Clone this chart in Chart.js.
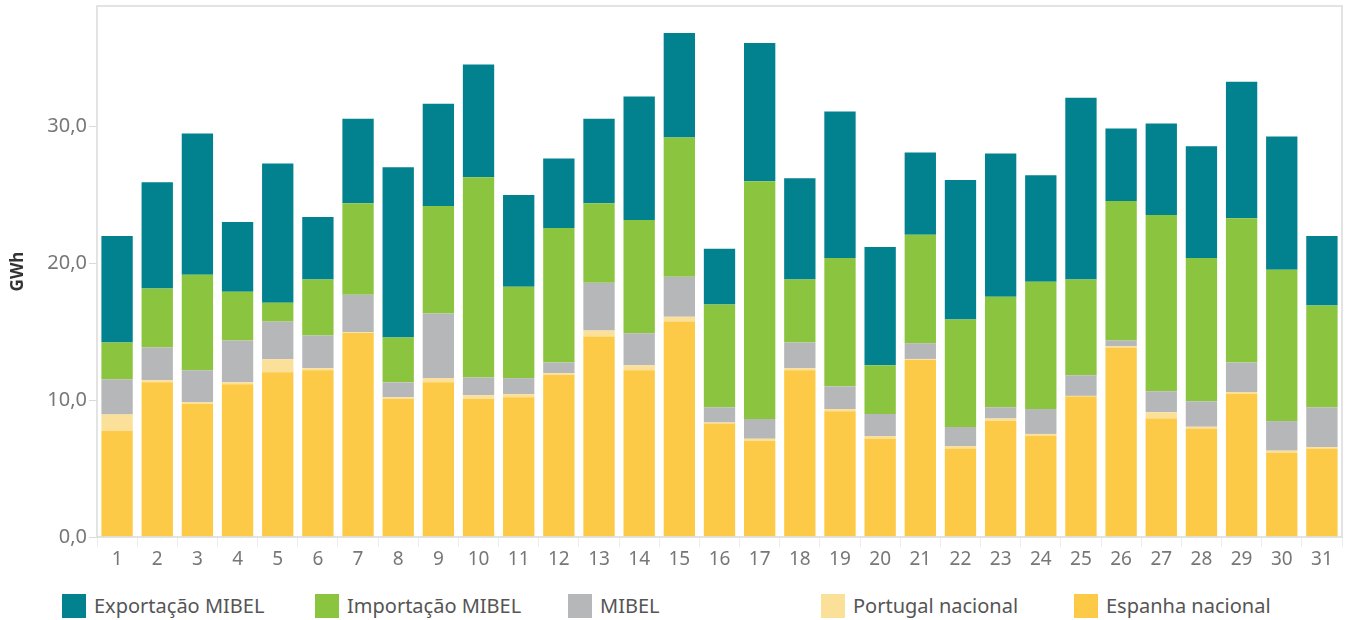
<!DOCTYPE html>
<html>
<head>
<meta charset="utf-8">
<script src="https://cdn.jsdelivr.net/npm/chart.js@4/dist/chart.umd.min.js"></script>
<style>
  html, body { margin: 0; padding: 0; background: #fff; }
  #wrap { position: relative; width: 1349px; height: 620px; }
  #box { position: absolute; left: 0; top: 0; width: 1349px; height: 580px; }
  #legend { position: absolute; left: 0; top: 594px; width: 1349px; height: 24px;
            font-family: "Noto Sans", sans-serif; font-size: 20px; color: #555; }
  .item { position: absolute; top: 0; height: 24px; line-height: 24px; white-space: nowrap; }
  .sw { display: inline-block; width: 24px; height: 24px; vertical-align: top; margin-right: 8px; }
</style>
</head>
<body>
<div id="wrap">
  <div id="box"><canvas id="chart"></canvas></div>
  <div id="legend"></div>
</div>
<script>
// Day of month
const days = ['1','2','3','4','5','6','7','8','9','10','11','12','13','14','15','16','17','18','19','20','21','22','23','24','25','26','27','28','29','30','31'];

// GWh per component, stacked bottom to top
const espanha = [7.74, 11.30, 9.74, 11.17, 12.03, 12.18, 14.91, 10.10, 11.30, 10.08, 10.21, 11.84, 14.65, 12.18, 15.74, 8.29, 7.01, 12.18, 9.19, 7.17, 12.94, 6.47, 8.49, 7.40, 10.26, 13.82, 8.65, 7.92, 10.44, 6.18, 6.47];
const portugal = [1.22, 0.15, 0.10, 0.13, 0.96, 0.16, 0.05, 0.11, 0.31, 0.28, 0.23, 0.13, 0.44, 0.37, 0.36, 0.07, 0.16, 0.16, 0.16, 0.21, 0.07, 0.18, 0.16, 0.13, 0.05, 0.13, 0.47, 0.13, 0.16, 0.13, 0.10];
const mibel = [2.57, 2.42, 2.34, 3.06, 2.75, 2.39, 2.75, 1.09, 4.73, 1.30, 1.17, 0.78, 3.48, 2.33, 2.91, 1.12, 1.45, 1.87, 1.66, 1.61, 1.15, 1.38, 0.83, 1.82, 1.51, 0.41, 1.53, 1.87, 2.15, 2.16, 2.91];
const importacao = [2.68, 4.29, 6.99, 3.56, 1.38, 4.08, 6.68, 3.27, 7.84, 14.63, 6.68, 9.82, 5.82, 8.29, 10.18, 7.51, 17.38, 4.60, 9.38, 3.56, 7.92, 7.87, 8.08, 9.30, 6.99, 10.19, 12.88, 10.47, 10.55, 11.06, 7.43];
const exportacao = [7.79, 7.76, 10.31, 5.09, 10.18, 4.57, 6.18, 12.44, 7.48, 8.23, 6.70, 5.09, 6.18, 9.01, 7.64, 4.07, 10.10, 7.40, 10.70, 8.64, 6.02, 10.18, 10.47, 7.79, 13.29, 5.29, 6.68, 8.16, 9.97, 9.74, 5.09];

const yTicks = [0, 10, 20, 30];

const series = [
  { label: 'Exportação MIBEL', data: exportacao, color: '#02818f' },
  { label: 'Importação MIBEL', data: importacao, color: '#8bc53f' },
  { label: 'MIBEL', data: mibel, color: '#b6b7b8' },
  { label: 'Portugal nacional', data: portugal, color: '#fbe09a' },
  { label: 'Espanha nacional', data: espanha, color: '#fcca46' }
];

// frame around the plot area
const framePlugin = {
  id: 'frame',
  afterDraw(chart) {
    const a = chart.chartArea, ctx = chart.ctx;
    ctx.save();
    ctx.strokeStyle = '#dadada';
    ctx.lineWidth = 1.5;
    ctx.strokeRect(a.left, a.top, a.right - a.left, a.bottom - a.top);
    ctx.restore();
  }
};

const ctx = document.getElementById('chart').getContext('2d');
new Chart(ctx, {
  type: 'bar',
  data: {
    labels: days,
    // bottom of stack first
    datasets: series.slice().reverse().map(s => ({
      label: s.label,
      data: s.data,
      backgroundColor: s.color,
      borderWidth: 0,
      categoryPercentage: 1,
      barPercentage: 0.78
    }))
  },
  options: {
    responsive: true,
    maintainAspectRatio: false,
    animation: false,
    layout: { padding: { top: 6, right: 7, left: 0, bottom: 0 } },
    plugins: {
      legend: { display: false },
      tooltip: { enabled: false }
    },
    scales: {
      x: {
        stacked: true,
        grid: { offset: true, drawOnChartArea: false, drawTicks: true, tickLength: 10, color: '#ececec' },
        border: { display: false },
        ticks: { color: '#777', font: { family: 'Noto Sans', size: 19 }, padding: 1, maxRotation: 0 },
        afterFit(scale) { scale.height = 43; scale.paddingLeft = 0; scale.paddingRight = 0; }
      },
      y: {
        stacked: true,
        min: 0,
        max: 38.8,
        grid: { drawOnChartArea: false, drawTicks: true, tickLength: 8, color: '#dadada' },
        border: { display: false },
        afterBuildTicks(scale) { scale.ticks = yTicks.map(v => ({ value: v })); },
        ticks: {
          color: '#777',
          font: { family: 'Noto Sans', size: 20 },
          padding: 2,
          callback: v => v.toFixed(1).replace('.', ',')
        },
        title: { display: true, text: 'GWh', color: '#333', font: { family: 'Noto Sans', size: 17, weight: 'bold' }, padding: { top: 8, bottom: 0 } },
        afterFit(scale) { scale.width = 97; scale.paddingTop = 0; scale.paddingBottom = 0; }
      }
    }
  },
  plugins: [framePlugin]
});

// legend laid out in fixed columns like the original
const legend = document.getElementById('legend');
series.forEach((s, i) => {
  const d = document.createElement('div');
  d.className = 'item';
  d.style.left = (62 + i * 253) + 'px';
  d.innerHTML = '<span class="sw" style="background:' + s.color + '"></span>' + s.label;
  legend.appendChild(d);
});
</script>
</body>
</html>
